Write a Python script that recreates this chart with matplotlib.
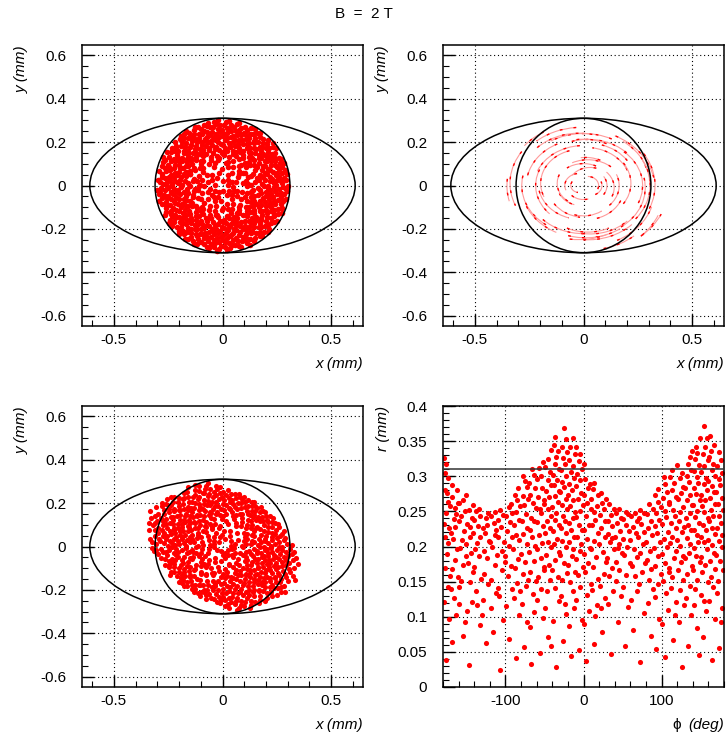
import numpy as np
import matplotlib
matplotlib.use("Agg")
import matplotlib.pyplot as plt
from matplotlib.patches import Ellipse, Circle, Arc
from matplotlib.ticker import MultipleLocator, FuncFormatter

plt.rcParams['font.family'] = ['Liberation Sans', 'DejaVu Sans']
plt.rcParams['axes.unicode_minus'] = False

# starting positions: (angle in deg, radius in um)
start_pts = [
(3,27),(8,96),(1,131),(6,152),(4,118),(9,171),(2,184),(7,199),(0,207),(5,219),(8,228),(3,236),(1,247),(6,254),(9,262),(4,268),(2,276),(7,284),(5,291),(0,299),
(15,64),(11,108),(18,140),(13,163),(16,177),(19,125),(12,190),(17,203),(14,212),(10,224),(18,231),(15,242),(11,249),(13,257),(19,265),(16,272),(12,280),(17,287),(14,294),(10,301),
(27,82),(23,47),(29,119),(21,149),(25,166),(28,181),(22,194),(26,205),(24,216),(20,223),(29,233),(23,240),(27,251),(21,259),(25,266),(28,274),(22,283),(26,289),(24,296),(20,302),
(34,91),(38,136),(31,112),(36,157),(33,172),(39,186),(32,196),(37,209),(35,218),(30,227),(38,235),(34,244),(31,252),(36,261),(33,269),(39,276),(32,285),(37,292),(35,298),(30,264),
(46,38),(42,101),(48,128),(44,147),(41,162),(47,179),(43,188),(49,201),(45,211),(40,219),(48,229),(42,238),(46,246),(44,255),(41,263),(47,271),(43,279),(49,287),(45,295),(40,302),
(55,73),(51,117),(58,143),(53,158),(56,169),(59,183),(52,197),(57,207),(54,214),(50,226),(58,232),(53,243),(55,250),(51,258),(56,267),(59,275),(52,282),(57,290),(54,297),(50,194),
(63,56),(67,122),(61,99),(65,151),(68,167),(62,176),(66,189),(69,204),(64,213),(60,221),(67,230),(63,239),(61,248),(65,256),(68,263),(62,271),(66,279),(69,288),(64,294),(60,301),
(74,88),(78,134),(71,154),(76,113),(73,168),(79,182),(72,193),(77,206),(75,217),(70,224),(78,233),(74,241),(71,251),(76,258),(73,266),(79,273),(72,281),(77,289),(75,297),(70,246),
(85,19),(81,107),(88,139),(83,160),(86,174),(89,187),(82,199),(87,209),(84,218),(80,227),(88,236),(85,244),(81,253),(83,261),(86,268),(89,277),(82,284),(87,292),(84,299),(80,186),
(93,77),(97,126),(91,148),(95,164),(99,179),(92,191),(96,202),(98,211),(94,222),(90,230),(97,239),(93,247),(91,256),(95,263),(99,271),(92,280),(96,287),(98,295),(94,302),(90,155),
(104,61),(108,111),(101,137),(106,158),(102,173),(109,184),(105,195),(107,208),(103,217),(100,226),(108,234),(104,242),(101,251),(106,259),(109,267),(102,276),(105,283),(107,291),(103,298),(100,121),
(116,94),(112,142),(118,165),(114,127),(111,176),(119,189),(113,200),(117,210),(115,221),(110,229),(118,237),(116,246),(112,254),(114,262),(119,270),(111,278),(117,286),(113,293),(115,300),(110,212),
(125,43),(121,118),(128,146),(123,161),(126,178),(129,190),(122,197),(127,212),(124,219),(120,231),(128,238),(125,248),(121,255),(123,264),(126,271),(129,279),(122,288),(127,296),(124,301),(120,175),
(134,69),(138,123),(131,151),(136,167),(133,182),(139,194),(132,203),(137,214),(135,223),(130,232),(138,241),(134,249),(131,257),(136,265),(133,274),(139,281),(132,289),(137,297),(135,140),(130,300),
(146,84),(142,131),(148,155),(144,171),(141,186),(147,197),(143,206),(149,216),(145,225),(140,233),(148,243),(146,251),(142,259),(144,268),(141,276),(147,284),(143,291),(149,298),(145,109),(140,208),
(153,52),(157,116),(151,144),(155,163),(159,178),(152,189),(156,201),(158,212),(154,220),(150,229),(157,237),(153,245),(151,254),(155,262),(159,270),(152,278),(156,287),(158,294),(154,302),(150,181),
(164,97),(168,135),(161,157),(166,172),(163,184),(169,196),(162,208),(167,217),(165,226),(160,235),(168,243),(164,252),(161,259),(166,267),(163,276),(169,283),(162,291),(167,299),(165,70),(160,160),
(174,33),(178,104),(171,139),(176,159),(173,173),(179,186),(172,198),(177,207),(175,218),(170,226),(178,234),(174,243),(171,250),(176,258),(173,268),(179,275),(172,282),(177,290),(175,297),(170,120),
(183,86),(187,128),(181,150),(185,166),(189,181),(182,193),(186,204),(188,213),(184,223),(180,231),(187,240),(183,249),(181,257),(185,264),(189,272),(182,281),(186,288),(188,296),(184,303),(180,110),
(195,58),(191,113),(198,143),(193,162),(196,176),(199,188),(192,199),(197,210),(194,220),(190,229),(198,236),(195,246),(191,253),(193,262),(196,269),(199,277),(192,286),(197,293),(194,300),(190,133),
(204,74),(208,125),(201,147),(206,168),(202,179),(209,192),(205,206),(207,215),(203,224),(200,232),(208,241),(204,250),(201,257),(206,266),(209,273),(202,280),(205,289),(207,297),(203,186),(200,102),
(216,45),(212,119),(218,152),(214,170),(211,183),(217,195),(213,205),(219,214),(215,222),(210,231),(218,240),(216,248),(212,256),(214,264),(211,272),(217,281),(213,288),(219,296),(215,301),(210,163),
(223,92),(227,136),(221,158),(225,173),(229,187),(222,198),(226,209),(228,219),(224,227),(220,236),(227,243),(223,251),(221,260),(225,268),(229,276),(222,283),(226,291),(228,298),(224,117),(220,66),
(234,63),(238,110),(231,141),(236,160),(233,176),(239,189),(232,200),(237,211),(235,221),(230,228),(238,237),(234,246),(231,254),(236,262),(233,270),(239,279),(232,286),(237,294),(235,301),(230,152),
(245,81),(241,129),(248,149),(243,166),(246,180),(249,193),(242,203),(247,213),(244,224),(240,232),(248,239),(245,247),(241,255),(243,263),(246,272),(249,280),(242,288),(247,295),(244,300),(240,36),
(253,99),(257,138),(251,159),(255,172),(259,185),(252,196),(256,207),(258,216),(254,225),(250,233),(257,242),(253,249),(251,258),(255,266),(259,274),(252,282),(256,290),(258,297),(254,121),(250,54),
(264,71),(268,114),(261,146),(266,163),(263,177),(269,190),(262,201),(267,212),(265,219),(260,229),(268,238),(264,245),(261,253),(266,261),(263,269),(269,278),(262,285),(267,293),(265,301),(260,137),
(275,25),(271,106),(278,143),(273,161),(276,174),(279,187),(272,198),(277,208),(274,218),(270,226),(278,235),(275,244),(271,252),(273,261),(276,268),(279,276),(272,284),(277,292),(274,299),(270,170),
(284,88),(288,132),(281,154),(286,169),(282,183),(289,195),(285,206),(287,215),(283,223),(280,232),(288,240),(284,249),(281,257),(286,265),(289,273),(282,281),(285,289),(287,296),(283,112),(280,191),
(296,49),(292,117),(298,145),(294,165),(291,178),(297,191),(293,201),(299,212),(295,221),(290,230),(298,238),(296,247),(292,255),(294,263),(291,271),(297,279),(293,287),(299,294),(295,301),(290,156),
(303,76),(307,124),(301,150),(305,168),(309,182),(302,194),(306,205),(308,214),(304,224),(300,233),(307,241),(303,250),(301,258),(305,267),(309,275),(302,283),(306,290),(308,298),(304,139),(300,97),
(315,62),(311,120),(318,147),(313,163),(316,178),(319,190),(312,202),(317,211),(314,220),(310,228),(318,237),(315,246),(311,254),(313,262),(316,270),(319,278),(312,287),(317,294),(314,301),(310,174),
(324,85),(328,131),(321,156),(326,171),(322,185),(329,197),(325,208),(327,217),(323,226),(320,234),(328,242),(324,251),(321,259),(326,268),(329,275),(322,283),(325,291),(327,299),(323,107),(320,40),
(336,57),(332,115),(338,142),(334,161),(331,175),(337,188),(333,199),(339,209),(335,220),(330,229),(338,236),(336,245),(332,253),(334,261),(331,270),(337,278),(333,286),(339,293),(335,300),(330,153),
(343,95),(347,134),(341,152),(345,168),(349,181),(342,194),(346,206),(348,215),(344,224),(340,231),(347,240),(343,248),(341,256),(345,265),(349,273),(342,281),(346,289),(348,297),(344,119),(340,72),
(354,48),(358,111),(351,144),(356,162),(353,176),(359,189),(352,200),(357,210),(355,219),(350,227),(358,236),(354,244),(351,253),(356,261),(353,269),(359,277),(352,285),(357,292),(355,300),(350,137),
]

# final positions: (phi in deg, r in um)
end_pts = [
(-176,38),(-172,97),(-179,121),(-174,142),(-178,170),(-171,158),(-175,189),(-173,205),(-177,214),(-179,232),(-172,226),(-176,247),(-174,263),(-171,258),(-178,281),(-175,276),(-173,297),(-177,304),(-179,326),(-176,318),
(-168,64),(-163,102),(-166,127),(-170,139),(-161,156),(-165,181),(-169,168),(-162,197),(-167,211),(-164,228),(-170,219),(-163,246),(-166,239),(-161,262),(-168,271),(-165,255),(-169,288),(-162,280),
(-154,72),(-159,118),(-152,93),(-157,151),(-160,142),(-155,173),(-151,186),(-158,198),(-153,222),(-156,209),(-160,236),(-152,251),(-157,244),(-154,266),(-159,262),(-151,274),
(-147,31),(-143,121),(-149,108),(-145,149),(-141,163),(-148,177),(-144,191),(-150,204),(-142,219),(-146,213),(-149,232),(-143,241),(-147,252),(-141,259),(-145,228),
(-133,88),(-138,136),(-131,154),(-136,117),(-140,171),(-134,186),(-139,197),(-132,214),(-137,205),(-135,229),(-140,238),(-132,244),(-138,251),(-134,254),
(-125,62),(-129,124),(-122,147),(-127,161),(-130,103),(-124,184),(-128,193),(-121,208),(-126,219),(-123,231),(-129,226),(-125,241),(-122,248),
(-116,79),(-112,134),(-119,152),(-114,173),(-118,112),(-111,188),(-117,199),(-113,216),(-120,207),(-115,233),(-112,224),(-118,243),(-114,249),
(-107,24),(-103,95),(-109,141),(-105,166),(-101,178),(-108,129),(-104,194),(-110,213),(-102,206),(-106,228),(-109,238),(-103,245),(-107,252),
(-95,68),(-99,116),(-92,139),(-97,158),(-93,172),(-100,187),(-96,201),(-91,214),(-98,222),(-94,235),(-92,247),(-99,243),(-96,256),(-93,261),
(-87,41),(-83,103),(-89,127),(-85,148),(-81,136),(-88,169),(-84,182),(-90,196),(-82,209),(-86,217),(-89,231),(-83,238),(-87,249),(-81,257),(-85,266),(-88,274),(-84,283),
(-76,57),(-72,92),(-79,118),(-74,144),(-78,161),(-71,153),(-75,178),(-80,189),(-73,203),(-77,218),(-72,226),(-79,237),(-74,246),(-76,259),(-71,268),(-78,272),(-73,284),(-75,293),(-77,301),
(-67,33),(-63,107),(-69,86),(-65,133),(-61,151),(-68,164),(-64,179),(-70,192),(-62,201),(-66,213),(-69,224),(-63,236),(-67,241),(-61,255),(-65,262),(-68,274),(-62,283),(-70,291),(-64,302),(-66,310),
(-56,49),(-52,98),(-59,124),(-54,139),(-58,157),(-51,171),(-55,184),(-60,197),(-53,205),(-57,216),(-52,229),(-59,235),(-54,247),(-56,254),(-51,266),(-58,271),(-53,283),(-60,296),(-55,301),(-57,312),(-52,320),
(-45,71),(-49,113),(-42,58),(-47,137),(-43,152),(-50,166),(-44,174),(-48,188),(-41,199),(-46,207),(-49,219),(-43,226),(-47,236),(-42,243),(-45,254),(-50,261),(-44,270),(-48,279),(-41,288),(-46,295),(-43,306),(-49,313),(-45,324),(-42,337),
(-35,29),(-39,94),(-32,122),(-37,141),(-33,156),(-40,167),(-36,181),(-31,192),(-38,203),(-34,211),(-39,222),(-32,231),(-37,238),(-35,247),(-40,256),(-33,263),(-36,272),(-31,279),(-38,288),(-34,294),(-39,302),(-32,311),(-37,318),(-35,327),(-33,336),(-38,344),(-36,356),
(-26,66),(-22,104),(-29,129),(-24,118),(-28,153),(-21,162),(-25,177),(-30,188),(-23,199),(-27,208),(-22,219),(-29,227),(-24,236),(-26,244),(-21,253),(-28,259),(-23,268),(-30,277),(-25,284),(-27,292),(-22,301),(-29,309),(-24,317),(-26,326),(-21,334),(-28,342),(-23,353),(-25,369),
(-16,44),(-12,112),(-19,87),(-14,136),(-17,149),(-11,163),(-20,174),(-15,186),(-13,197),(-18,206),(-12,214),(-16,223),(-19,233),(-14,241),(-11,249),(-17,257),(-13,266),(-20,273),(-15,281),(-18,289),(-12,297),(-16,306),(-14,314),(-19,323),(-11,331),(-17,342),(-13,354),
(-6,53),(-2,96),(-9,124),(-4,143),(-7,159),(-1,171),(-10,182),(-5,194),(-3,204),(-8,213),(-2,224),(-6,231),(-9,242),(-4,251),(-1,259),(-7,267),(-3,276),(-10,286),(-5,294),(-8,303),(-2,311),(-6,322),(-4,331),(-9,341),
(3,37),(7,108),(1,89),(5,131),(9,146),(2,163),(6,177),(0,189),(8,198),(4,211),(1,223),(7,231),(3,244),(9,253),(5,262),(0,274),(6,283),(2,296),(8,289),(1,318),
(13,61),(17,117),(11,138),(15,101),(19,154),(12,171),(16,185),(10,197),(14,208),(18,219),(11,231),(15,238),(13,249),(17,258),(10,267),(19,273),(12,282),(14,290),
(24,79),(28,126),(21,144),(26,161),(22,112),(29,178),(25,192),(20,203),(27,214),(23,226),(28,237),(21,245),(26,253),(24,262),(29,268),(22,276),
(35,47),(31,118),(38,137),(33,158),(36,169),(30,183),(39,196),(34,207),(32,218),(37,229),(31,237),(35,245),(39,254),(33,261),(37,212),
(44,92),(48,129),(41,151),(46,167),(42,178),(49,191),(45,203),(40,214),(47,222),(43,233),(48,240),(41,247),(46,253),(44,198),
(53,58),(57,114),(51,143),(55,159),(59,176),(52,188),(56,199),(50,211),(58,222),(54,231),(51,239),(57,246),(55,249),
(64,81),(68,137),(61,124),(66,158),(62,172),(69,185),(65,196),(60,209),(67,219),(63,228),(68,236),(61,243),(66,248),
(73,36),(77,106),(71,147),(75,164),(79,176),(72,191),(76,204),(70,213),(78,221),(74,232),(71,241),(77,247),(73,252),
(86,72),(82,119),(89,139),(84,153),(87,168),(81,181),(85,194),(80,207),(88,216),(83,227),(86,236),(81,246),(89,253),(84,260),
(93,54),(97,97),(91,128),(95,146),(99,161),(92,172),(96,186),(90,198),(98,207),(94,219),(91,229),(97,238),(93,247),(99,256),(95,264),(92,273),(96,282),
(104,43),(108,109),(101,89),(106,134),(102,151),(109,163),(105,177),(100,189),(107,199),(103,211),(108,221),(101,232),(106,242),(104,251),(109,261),(102,269),(107,278),(105,289),(103,299),
(115,67),(119,121),(112,141),(117,103),(113,156),(110,169),(116,183),(118,194),(111,205),(114,214),(119,226),(112,233),(117,244),(115,252),(110,263),(118,271),(113,280),(116,291),(111,299),(114,309),
(126,28),(122,93),(129,117),(124,138),(127,152),(121,166),(125,178),(128,187),(123,201),(120,209),(126,221),(129,228),(122,237),(124,249),(127,256),(121,267),(125,276),(128,284),(123,297),(126,305),(120,316),
(134,59),(138,102),(131,126),(136,144),(133,161),(139,172),(130,183),(135,191),(137,204),(132,212),(138,223),(134,231),(131,241),(136,248),(139,259),(133,266),(137,274),(130,283),(135,292),(132,301),(138,309),(134,318),(136,327),(139,336),
(145,84),(141,117),(148,46),(143,139),(146,153),(140,166),(149,178),(144,187),(142,198),(147,207),(145,216),(141,224),(148,233),(143,242),(146,251),(140,259),(149,266),(144,275),(142,283),(147,291),(145,299),(141,307),(148,316),(143,324),(146,333),(144,342),(149,355),
(153,71),(157,108),(151,131),(155,123),(159,149),(152,163),(156,174),(150,185),(158,196),(154,206),(151,214),(157,223),(153,231),(159,241),(155,249),(152,257),(156,266),(150,274),(158,281),(154,289),(157,298),(151,306),(155,314),(159,323),(153,331),(156,342),(158,355),(154,371),
(164,39),(168,97),(161,122),(166,143),(163,157),(169,168),(162,179),(167,191),(165,202),(160,209),(168,218),(164,227),(161,236),(166,244),(163,252),(169,261),(162,269),(167,277),(165,286),(160,293),(168,301),(164,309),(166,318),(161,327),(163,336),(167,345),(162,357),
(174,56),(178,113),(171,134),(176,92),(172,151),(179,166),(175,179),(170,188),(177,199),(173,208),(178,217),(171,226),(176,234),(174,243),(179,252),(172,261),(177,269),(170,278),(175,287),(173,296),(178,305),(171,314),(176,323),(174,334),
]

# a few tracks drawn as arcs: radius (mm), start/end angle (deg), centre offset (mm)
trk_r  = [0.27, 0.25, 0.23, 0.21, 0.19, 0.17, 0.15, 0.12, 0.09, 0.06, 0.035, 0.05, 0.08, 0.11,
          0.14, 0.18, 0.22, 0.26, 0.29, 0.30, 0.28, 0.25, 0.27, 0.24, 0.20, 0.16, 0.13, 0.10,
          0.07, 0.20, 0.24, 0.28, 0.32, 0.33, 0.32, 0.31, 0.26, 0.22, 0.27, 0.24, 0.22,
          0.29, 0.20, 0.16, 0.23, 0.11, 0.045, 0.30, 0.26, 0.18, 0.14]
trk_t1 = [60, 75, 40, 95, 20, 110, 45, 60, 70, 100, 150, -60, -30, -20,
          -40, -30, -20, -35, -20, 10, -60, -110, -100, -140, -120, -150, -110, -160,
          -140, 160, 170, 150, 175, -45, -40, 125, -95, -100, 0, -50, 60,
          95, 30, -70, 120, 160, -20, -75, 200, 190, 60]
trk_t2 = [125, 140, 110, 160, 80, 200, 120, 130, 150, 200, 260, 20, 30, 40,
          20, 30, 45, 25, 30, 60, -15, -50, -60, -90, -60, -100, -50, -110,
          -70, 220, 230, 200, 192, -22, -20, 145, -40, -40, 50, 10, 100,
          135, 70, -20, 170, 230, 90, -45, 240, 250, 100]
trk_cx = [0, -0.02, 0.02, 0, 0.01, -0.01, 0.02, 0, 0.03, -0.02, -0.02, 0.03, 0.02, 0.02,
          0.01, 0.02, 0.03, 0.02, 0.01, 0, 0.02, 0.01, -0.02, 0, 0.02, 0.01, 0, -0.01,
          0, 0, -0.02, -0.03, 0, 0.03, 0.02, -0.01, 0.02, 0.03, 0.01, 0.02, 0,
          -0.01, 0.02, 0.01, -0.01, 0, 0.02, 0.02, 0, -0.01, 0.01]
trk_cy = [-0.01, 0.01, 0, -0.01, 0, 0.01, -0.02, -0.01, 0, 0, 0, 0, 0, -0.01,
          0, 0.01, 0, 0, 0, -0.02, -0.02, -0.01, 0, 0, -0.03, 0, -0.02, 0,
          0, 0, 0, 0.01, 0, 0, -0.02, 0, -0.01, -0.02, 0, -0.01, 0.01,
          0, 0.01, -0.01, 0, 0.01, 0, -0.02, 0, 0.01, 0]

beam_r = 0.31
ell_a, ell_b = 0.61, 0.31

a0, r0 = np.array(start_pts, float).T
x0 = r0 / 1000 * np.cos(np.radians(a0))
y0 = r0 / 1000 * np.sin(np.radians(a0))
phi, r1 = np.array(end_pts, float).T
r1 = r1 / 1000
x1 = r1 * np.cos(np.radians(phi))
y1 = r1 * np.sin(np.radians(phi))

FS = 11


def fmt(v, pos):
    v = round(v, 6)
    if v == 0:
        return "0"
    return "%g" % v


def style(ax, xlim, ylim, xmaj, xmin, ymaj, ymin):
    ax.set_xlim(*xlim)
    ax.set_ylim(*ylim)
    ax.xaxis.set_major_locator(MultipleLocator(xmaj))
    ax.xaxis.set_minor_locator(MultipleLocator(xmin))
    ax.yaxis.set_major_locator(MultipleLocator(ymaj))
    ax.yaxis.set_minor_locator(MultipleLocator(ymin))
    ax.xaxis.set_major_formatter(FuncFormatter(fmt))
    ax.yaxis.set_major_formatter(FuncFormatter(fmt))
    ax.tick_params(which='both', direction='in', top=False, right=False, labelsize=FS)
    ax.tick_params(which='major', length=8.5, width=1)
    ax.tick_params(which='minor', length=4.2, width=0.8)
    ax.tick_params(axis='x', pad=5)
    ax.tick_params(axis='y', pad=11.5)
    ax.grid(True, which='major', color='black', lw=0.8, ls=(0, (1, 2.5)))
    for s in ax.spines.values():
        s.set_linewidth(1.1)


def labels(ax, xl, yl):
    ax.text(1.0, -0.11, xl, ha='right', va='top', style='italic', fontsize=FS,
            transform=ax.transAxes)
    ax.text(-0.215, 1.0, yl, ha='center', va='top', rotation=90, style='italic',
            fontsize=FS, transform=ax.transAxes)


def shapes(ax):
    ax.add_patch(Ellipse((0, 0), 2 * ell_a, 2 * ell_b, fill=False, color='black', lw=1.1, zorder=3))
    ax.add_patch(Circle((0, 0), beam_r, fill=False, color='black', lw=1.1, zorder=3))


fig = plt.figure(figsize=(7.27, 7.45), dpi=100)
W, H = 727.0, 745.0
ax1 = fig.add_axes([82 / W, 1 - 326 / H, 281 / W, 281 / H])
ax2 = fig.add_axes([443 / W, 1 - 326 / H, 281 / W, 281 / H])
ax3 = fig.add_axes([82 / W, 1 - 687 / H, 281 / W, 281 / H])
ax4 = fig.add_axes([443 / W, 1 - 687 / H, 281 / W, 281 / H])

lim = (-0.646, 0.646)
for ax in (ax1, ax2, ax3):
    style(ax, lim, (-0.648, 0.648), 0.5, 0.1, 0.2, 0.05)
    labels(ax, "x (mm)", "y (mm)")

# initial positions
ax1.plot(x0, y0, 'o', ms=4.0, mew=0, color='red', zorder=2)
shapes(ax1)

# tracks
for r, t1, t2, cx, cy in zip(trk_r, trk_t1, trk_t2, trk_cx, trk_cy):
    ax2.add_patch(Arc((cx, cy), 2.2 * r, 1.85 * r, theta1=t1, theta2=t2,
                      color='#ff9a9a', lw=0.8, zorder=2))
    ax2.add_patch(Arc((cx, cy), 2.2 * r, 1.85 * r, theta1=t1, theta2=t2,
                      color='red', lw=1.0, ls=(0, (2, 8)), zorder=2))
shapes(ax2)

# final positions
ax3.plot(x1, y1, 'o', ms=3.7, mew=0, color='red', zorder=2)
shapes(ax3)

# r vs phi
style(ax4, (-180, 180), (0, 0.4), 100, 20, 0.05, 0.01)
ax4.plot(phi, r1, 'o', ms=3.7, mew=0, color='red', zorder=2)
ax4.axhline(beam_r, color='#333333', lw=1.1, zorder=3)
ax4.text(1.0, -0.11, "(deg)", ha='right', va='top', style='italic', fontsize=FS,
         transform=ax4.transAxes)
ax4.text(0.833, -0.11, "\u03d5", ha='center', va='top', fontsize=FS,
         transform=ax4.transAxes)
ax4.text(-0.215, 1.0, "r (mm)", ha='center', va='top', rotation=90, style='italic',
         fontsize=FS, transform=ax4.transAxes)

fig.text(0.5, 0.981, "B  =  2 T", ha='center', va='center', fontsize=11)

fig.savefig("out.png", dpi=100)
